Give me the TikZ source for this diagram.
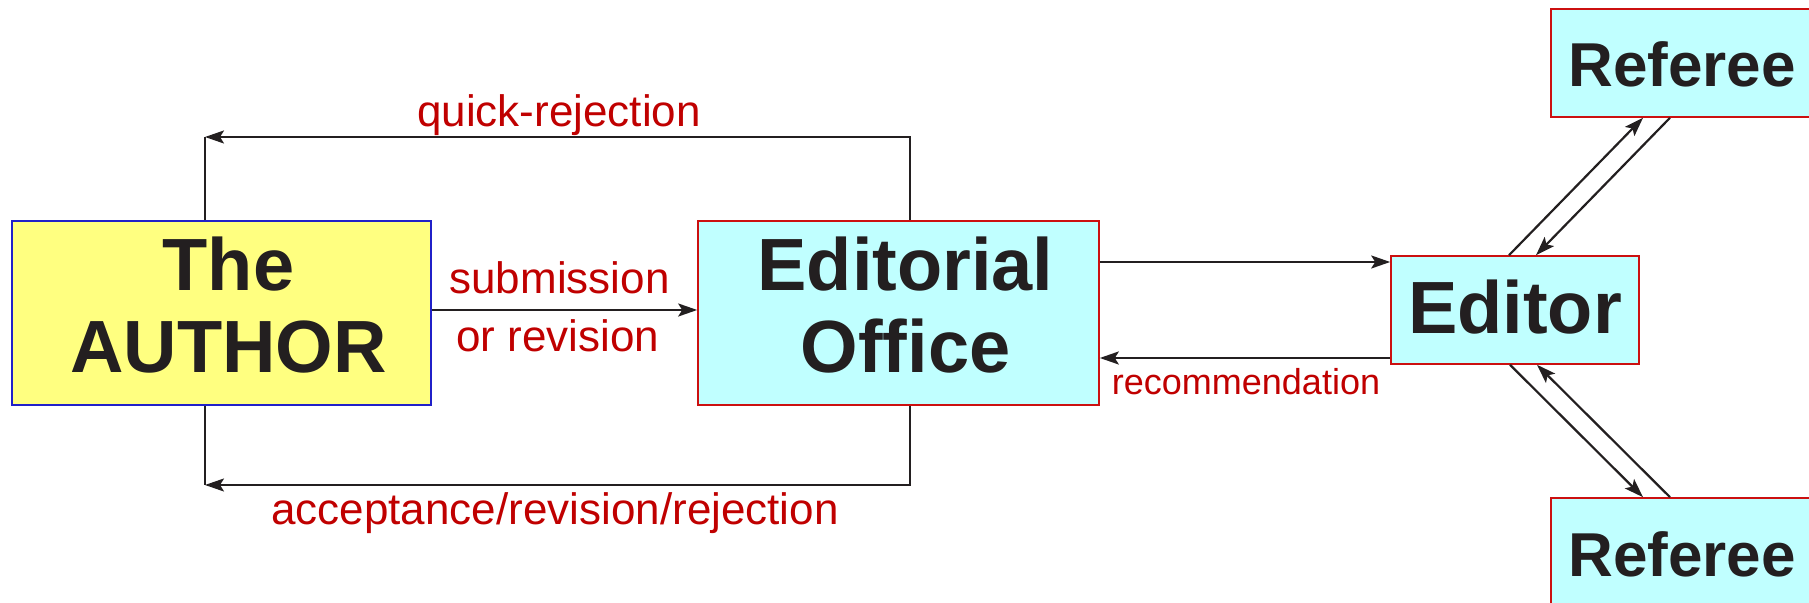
\documentclass[tikz,border=0pt]{standalone}
\usepackage{fontspec}
\setmainfont{Liberation Sans}
\usetikzlibrary{arrows.meta}
\definecolor{ink}{HTML}{231F20}
\definecolor{labred}{HTML}{C00000}
\definecolor{cyanfill}{HTML}{C0FFFF}
\definecolor{yelfill}{HTML}{FFFF80}
\definecolor{blueedge}{HTML}{2020C8}
\definecolor{rededge}{HTML}{CC1010}
\begin{document}
\begin{tikzpicture}[x=0.5pt,y=-0.5pt,
  box/.style={rectangle, inner sep=0pt, line width=0.8pt, text=ink},
  bigbox/.style={box, minimum height=92pt, font=\fontsize{37}{41}\selectfont\bfseries, align=center, text height=60pt, text depth=0pt},
  edbox/.style={box, minimum width=124pt, minimum height=54pt, font=\fontsize{37}{41}\selectfont\bfseries, text height=24pt, text depth=0pt},
  refbox/.style={box, minimum width=131pt, minimum height=54pt, font=\fontsize{31}{35}\selectfont\bfseries, text height=24pt, text depth=0pt},
  flow/.style={draw=ink, line width=1.1pt, -{Stealth[length=9.5pt,width=6.5pt,inset=2pt]}},
  plain/.style={draw=ink, line width=1.1pt},
  lab/.style={text=labred, font=\fontsize{22}{26}\selectfont, inner sep=0pt, anchor=base},
]
\useasboundingbox (0,0) rectangle (1809,603);
\fill[white] (0,0) rectangle (1809,603);

\node[bigbox, fill=yelfill, draw=blueedge, minimum width=209.5pt] (author) at (221.5,313) {\hspace*{7pt}The\\\hspace*{7pt}AUTHOR};
\node[bigbox, fill=cyanfill, draw=rededge, minimum width=200.5pt] (office) at (898.5,313) {\hspace*{7pt}Editorial\\\hspace*{7pt}Office};
\node[edbox, fill=cyanfill, draw=rededge] (editor) at (1515,310) {Editor};
\node[refbox, fill=cyanfill, draw=rededge] (reftop) at (1682,63) {Referee};
\node[refbox, fill=cyanfill, draw=rededge] (refbot) at (1682,552) {Referee};

\draw[flow] ([yshift=1.5pt]author.east) -- ([yshift=1.5pt]office.west);
\coordinate (qc) at (205,137);
\draw[flow] (office.north -| 910,0) |- (qc);
\draw[plain] (author.north -| qc) -- (qc);
\coordinate (ac) at (205,485);
\draw[flow] (office.south -| 910,0) |- (ac);
\draw[plain] (author.south -| ac) -- (ac);
\draw[flow] (office.east |- 0,262) -- (editor.west |- 0,262);
\draw[flow] (editor.west |- 0,358) -- (office.east |- 0,358);
\draw[flow] (editor.north -| 1509,0) -- (reftop.south -| 1643,0);
\draw[flow] (reftop.south -| 1670,0) -- (editor.north -| 1536,0);
\draw[flow] (editor.south -| 1510,0) -- (refbot.north -| 1643,0);
\draw[flow] (refbot.north -| 1670,0) -- (editor.south -| 1537,0);

\node[lab] (lq) at (559,126.7) {quick-rejection};
\node[lab] (ls) at (559.5,294) {submission};
\node[lab] (lr) at (558,352) {or revision};
\node[lab] (la) at (555,525) {acceptance/revision/rejection};
\node[lab, font=\fontsize{18}{22}\selectfont] (lrec) at (1246,395) {recommendation};
\end{tikzpicture}
\end{document}
